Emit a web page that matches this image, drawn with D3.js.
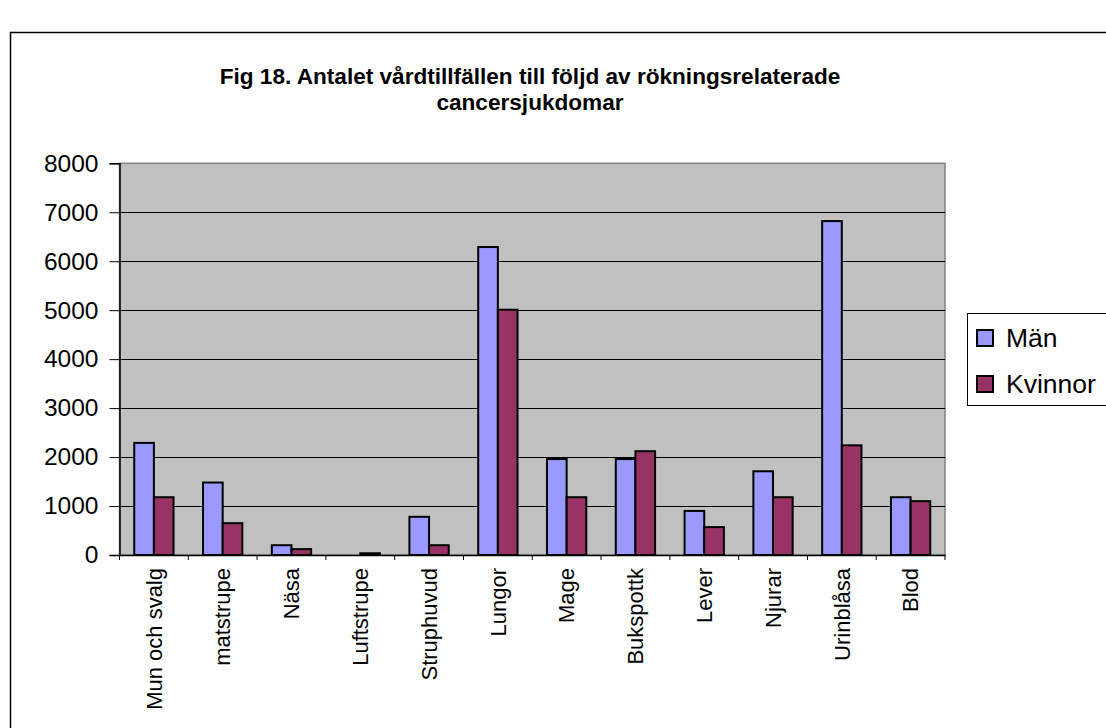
<!DOCTYPE html>
<html><head><meta charset="utf-8">
<script src="https://cdn.jsdelivr.net/npm/d3@7"></script>
<style>body{margin:0;background:#fff}svg{display:block}text{font-family:"Liberation Sans",Arial,sans-serif}</style>
</head><body><svg id="c" width="1106" height="728"></svg>
<script>
const categories = ["Mun och svalg","matstrupe","Näsa","Luftstrupe","Struphuvud","Lungor","Mage","Bukspottk","Lever","Njurar","Urinblåsa","Blod"];
const seriesNames = ["Män","Kvinnor"];
const manValues = [2290,1480,200,0,780,6290,1960,1960,900,1710,6820,1180];
const kvinnorValues = [1180,650,120,35,200,5010,1180,2120,570,1180,2240,1100];
const yTicks = [0,1000,2000,3000,4000,5000,6000,7000,8000];
const titleLines = ["Fig 18. Antalet vårdtillfällen till följd av rökningsrelaterade","cancersjukdomar"];
const seriesColors = ["#9999FF","#993366"];

const svg = d3.select("#c");
// outer chart frame (extends past right/bottom edges)
svg.append("rect").attr("x",10.5).attr("y",32.5).attr("width",1200).attr("height",900)
  .attr("fill","#fff").attr("stroke","#000").attr("stroke-width",1.5);

const L=119.5, R=945, T=163.3, B=555;
const x0 = d3.scaleBand().domain(categories).range([L,R]).padding(0);
const bw = x0.bandwidth()/3.5;
const x1 = d3.scaleBand().domain(seriesNames).range([0.75*bw, 2.75*bw]).padding(0);
const y = d3.scaleLinear().domain([0,8000]).range([B,T]);

// title
const title = svg.append("text").attr("x",530).attr("text-anchor","middle")
  .attr("font-weight","bold").attr("font-size",22.6).attr("fill","#000");
titleLines.forEach((t,i)=>title.append("tspan").attr("x",530).attr("y",84+i*26).text(t));

// plot area
svg.append("rect").attr("x",L).attr("y",T).attr("width",R-L).attr("height",B-T)
  .attr("fill","#C0C0C0").attr("stroke","#808080").attr("stroke-width",1.5);

// gridlines
svg.append("g").selectAll("line").data(yTicks.filter(d=>d>0 && d<8000)).join("line")
  .attr("x1",L).attr("x2",R).attr("y1",d=>Math.round(y(d))+0.5).attr("y2",d=>Math.round(y(d))+0.5)
  .attr("stroke","#000").attr("stroke-width",1);

// bars
const rows = categories.map((c,i)=>({c, vals:[manValues[i],kvinnorValues[i]]}));
const g = svg.append("g");
rows.forEach(r=>{
  r.vals.forEach((v,j)=>{
    if(v<=0) return;
    g.append("rect")
      .attr("x",x0(r.c)+x1(seriesNames[j]))
      .attr("y",y(v))
      .attr("width",x1.bandwidth())
      .attr("height",B-y(v))
      .attr("fill",seriesColors[j]).attr("stroke","#000").attr("stroke-width",2);
  });
});

// y axis
const ya = svg.append("g").attr("transform",`translate(${L},0)`)
  .call(d3.axisLeft(y).tickValues(yTicks).tickSize(10).tickPadding(11).tickFormat(d3.format("d")));
ya.select(".domain").attr("stroke","#000").attr("stroke-width",1.5);
ya.selectAll(".tick line").attr("stroke","#000");
ya.selectAll("text").attr("font-size",24.5).attr("font-family","'Liberation Sans',Arial,sans-serif").attr("fill","#000");

// x axis
const xa = svg.append("g").attr("transform",`translate(0,${B})`)
  .call(d3.axisBottom(x0).tickSize(0));
xa.select(".domain").attr("stroke","#000").attr("stroke-width",1.5);
xa.selectAll("text").attr("font-size",22).attr("font-family","'Liberation Sans',Arial,sans-serif").attr("fill","#000")
  .attr("transform","rotate(-90)").attr("x",-13).attr("y",0).attr("dy","0.35em").attr("text-anchor","end");
const bounds = categories.map(c=>x0(c)).concat([R]);
svg.append("g").selectAll("line").data(bounds).join("line")
  .attr("x1",d=>d).attr("x2",d=>d).attr("y1",B).attr("y2",B+5).attr("stroke","#000");

// legend
const lg = svg.append("g");
lg.append("rect").attr("x",967.5).attr("y",313.5).attr("width",200).attr("height",92)
  .attr("fill","#fff").attr("stroke","#000");
seriesNames.forEach((s,i)=>{
  lg.append("rect").attr("x",977).attr("y",330+i*46).attr("width",16).attr("height",16)
    .attr("fill",seriesColors[i]).attr("stroke","#000").attr("stroke-width",2);
  lg.append("text").attr("x",1006).attr("y",347+i*46).attr("font-size",26.5).attr("fill","#000").text(s);
});
</script></body></html>
